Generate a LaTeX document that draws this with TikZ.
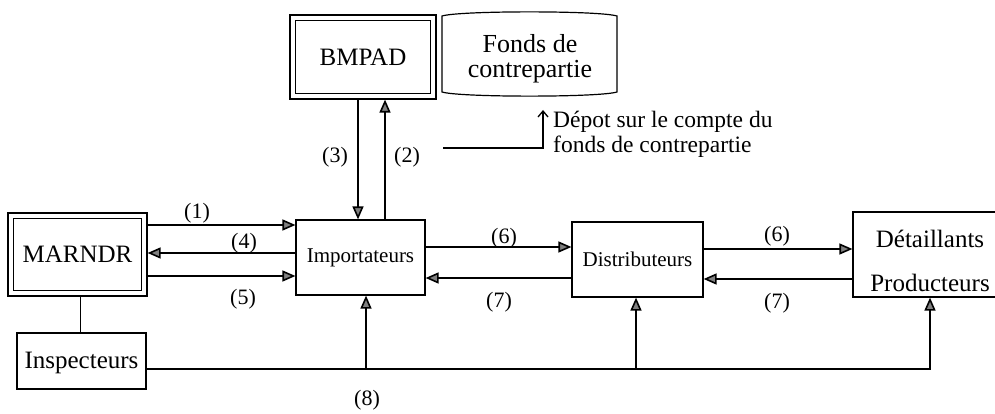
\documentclass[tikz,border=0pt]{standalone}
\usepackage{fontspec}
\setmainfont{Liberation Serif}
\usetikzlibrary{arrows.meta,calc}
\begin{document}
\begin{tikzpicture}[x=1pt,y=-1pt,
  box/.style={draw,line width=1.2pt,inner sep=0pt,align=center},
  arr/.style={line width=1.6pt,-{Triangle[length=13pt,width=11pt,fill=black!50]}},
  ln/.style={line width=1.6pt},
  lab/.style={inner sep=0pt,font=\fontsize{22}{24}\selectfont},
  big/.style={font=\fontsize{25}{27}\selectfont},
  mid/.style={font=\fontsize{21}{23}\selectfont},
  dep/.style={inner sep=0pt,anchor=base west,font=\fontsize{23.5}{25}\selectfont}]
\useasboundingbox (0,0) rectangle (995,414);
\fill[white] (0,0) rectangle (995,414);

% boxes
\node[box,big,minimum width=146pt,minimum height=84pt] (bmpad) at (363,57) {BMPAD};
\draw[line width=1.2pt] ([shift={(6,6)}]bmpad.north west) rectangle ([shift={(-6,-6)}]bmpad.south east);

\node[box,big,minimum width=139pt,minimum height=83pt] (marndr) at (77.5,254.5) {MARNDR};
\draw[line width=1.2pt] ([shift={(6,6)}]marndr.north west) rectangle ([shift={(-6,-6)}]marndr.south east);

\node[box,big,minimum width=129pt,minimum height=56pt,text depth=2pt] (insp) at (81.5,361) {Inspecteurs};
\node[box,mid,minimum width=129pt,minimum height=75pt] (imp) at (360.5,257.5) {Importateurs};
\node[box,mid,minimum width=131pt,minimum height=75pt] (dist) at (637.5,259.5) {Distributeurs};
\node[box,minimum width=157pt,minimum height=85pt] (det) at (931.5,254.5) {};
\node[big,inner sep=0pt,anchor=base] (dett) at (930,247) {Détaillants};
\node[big,inner sep=0pt,anchor=base] (prod) at (930,291) {Producteurs};

% cylinder
\draw[line width=1.2pt] (442,16) .. controls (460,10.5) and (599,10.5) .. (617,16)
  -- (617,92) .. controls (599,97.5) and (460,97.5) .. (442,92) -- cycle;
\node[inner sep=0pt,align=center,font=\fontsize{26}{25}\selectfont] (fonds) at (530,58.5) {Fonds de\\contrepartie};

% reference coordinates
\coordinate (y1) at (0,225);
\coordinate (y4) at (0,253);
\coordinate (y5) at (0,276);
\coordinate (y6a) at (0,247);
\coordinate (y7a) at (0,278);
\coordinate (y6b) at (0,249);
\coordinate (y7b) at (0,279);
\coordinate (x3) at (358,0);
\coordinate (x2) at (385,0);
\coordinate (xm) at (80,0);
\coordinate (c8i) at (366,369);
\coordinate (c8t) at (636,369);
\coordinate (c8d) at (930,369);
\coordinate (dp0) at (443,148);
\coordinate (dp1) at (543,148);
\coordinate (dp2) at (543,110);

% connectors
\draw[arr] (marndr.east |- y1) -- (imp.west |- y1);
\draw[arr] (imp.west |- y4) -- (marndr.east |- y4);
\draw[arr] (marndr.east |- y5) -- (imp.west |- y5);
\draw[arr] (bmpad.south -| x3) -- (imp.north -| x3);
\draw[arr] (imp.north -| x2) -- (bmpad.south -| x2);
\draw[arr] (imp.east |- y6a) -- (dist.west |- y6a);
\draw[arr] (dist.west |- y7a) -- (imp.east |- y7a);
\draw[arr] (dist.east |- y6b) -- (det.west |- y6b);
\draw[arr] (det.west |- y7b) -- (dist.east |- y7b);
\draw[line width=1pt] (marndr.south -| xm) -- (insp.north -| xm);
\draw[arr] (insp.east |- c8d) -- (c8d) -- (det.south -| c8d);
\draw[arr] (c8i) -- (imp.south -| c8i);
\draw[arr] (c8t) -- (dist.south -| c8t);
\draw[line width=1.3pt,-{Straight Barb[length=6pt,width=10pt]}] (dp0) -- (dp1) -- (dp2);

% labels
\node[lab] (l1) at (197,213) {(1)};
\node[lab] (l4) at (244,243) {(4)};
\node[lab] (l5) at (243,299) {(5)};
\node[lab] (l3) at (335,157) {(3)};
\node[lab] (l2) at (407,157) {(2)};
\node[lab] (l6a) at (504,238) {(6)};
\node[lab] (l7a) at (499,302) {(7)};
\node[lab] (l6b) at (777,236) {(6)};
\node[lab] (l7b) at (777,303) {(7)};
\node[lab] (l8) at (367,400) {(8)};
\node[dep] (dep1) at (553,128) {Dépot sur le compte du};
\node[dep] (dep2) at (553,153) {fonds de contrepartie};
\end{tikzpicture}
\end{document}
